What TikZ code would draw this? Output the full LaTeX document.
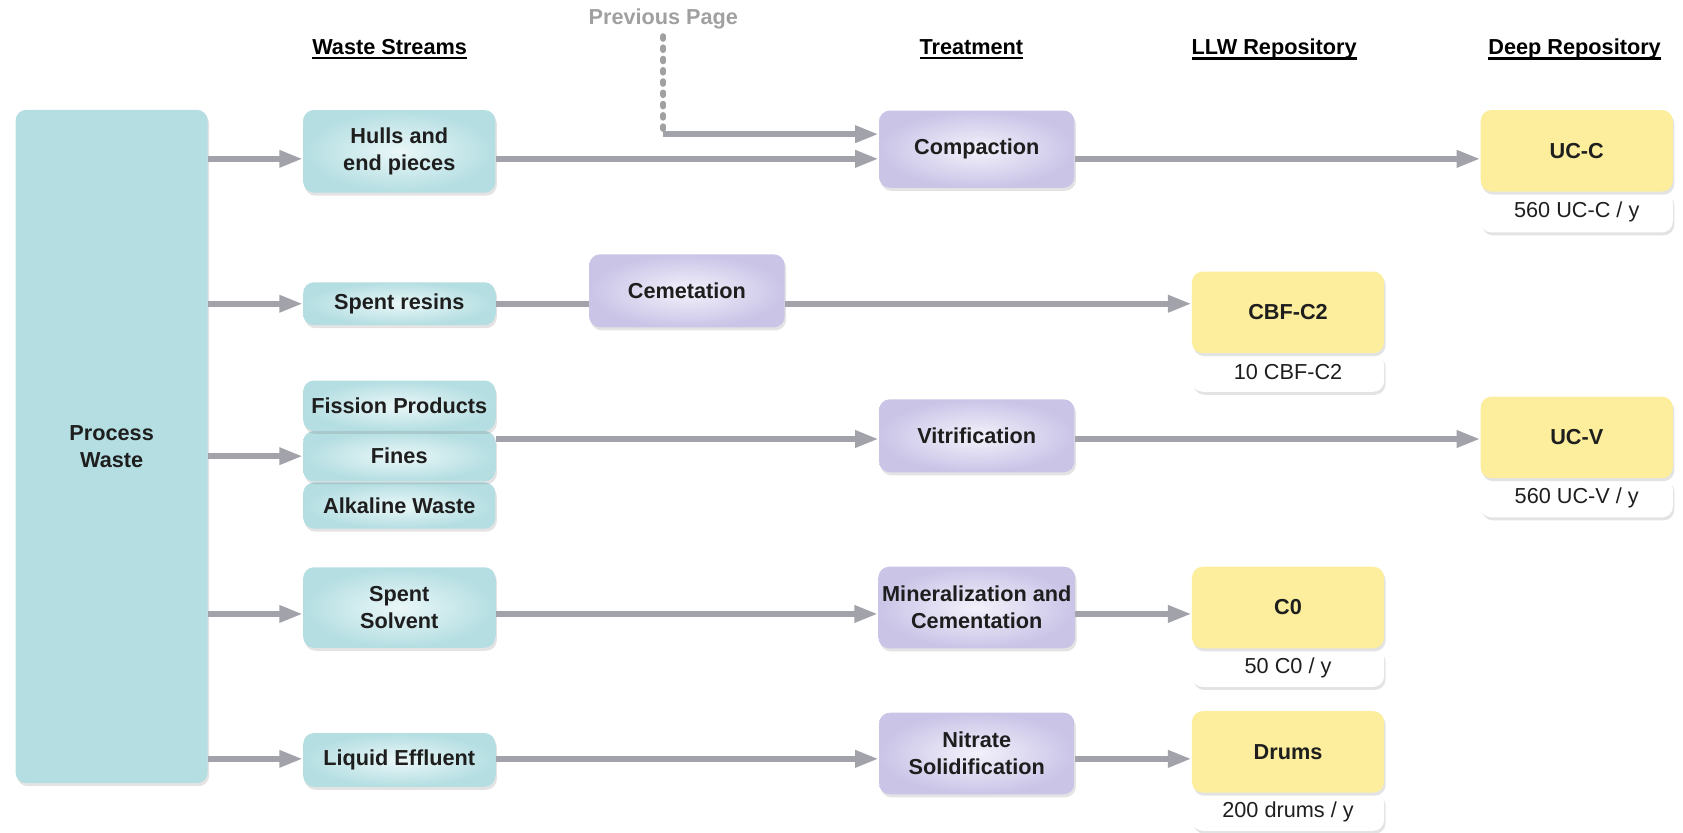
\documentclass[tikz,border=0pt]{standalone}
\usepackage{fontspec}
\setmainfont{Liberation Sans}
\newcommand{\underhead}[1]{\setbox0\hbox{#1}\leavevmode\rlap{\rule[-2.6pt]{\wd0}{1.2pt}}\box0}
\usetikzlibrary{positioning}
\usetikzlibrary{arrows.meta, shadows}

\definecolor{wastecyan}{HTML}{B4DEE2}
\definecolor{wastecyanlight}{HTML}{EAF7F8}
\definecolor{treatlilac}{HTML}{CAC4E7}
\definecolor{treatlilaclight}{HTML}{F3F1FB}
\definecolor{storeyellow}{HTML}{FCEE9C}
\definecolor{flowgray}{HTML}{A2A2AA}
\definecolor{pagegray}{HTML}{A0A0A0}
\definecolor{inktext}{HTML}{1E1E1E}

\begin{document}
\begin{tikzpicture}[x=0.02cm, y=-0.02cm]

\tikzset{box/.style={
		rounded corners=0.2cm,
		minimum width=3.58cm,
		inner sep=2pt,
		align=center,
		text=inktext,
		font=\fontsize{11.5}{14.5}\selectfont\bfseries,
		drop shadow={shadow xshift=0.8pt, shadow yshift=-1.6pt, opacity=0.22}
	},
	stream/.style={box, inner color=wastecyanlight, outer color=wastecyan, minimum height=#1},
	stream/.default=1.5cm,
	treat/.style={box, minimum width=3.64cm, inner color=treatlilaclight, outer color=treatlilac, minimum height=#1},
	treat/.default=1.5cm,
	store/.style={box, fill=storeyellow, minimum height=1.52cm},
	ratebox/.style={box, fill=white, minimum height=#1, font=\fontsize{11.5}{14}\selectfont},
	ratebox/.default=0.74cm,
	colhead/.style={font=\fontsize{11.5}{14}\selectfont\bfseries, text=black},
	flow/.style={draw=flowgray, line width=0.11cm, -{Triangle[length=0.44cm, width=0.3cm]}},
	flowline/.style={draw=flowgray, line width=0.11cm},
	pagelink/.style={draw=pagegray, line width=0.11cm, line cap=round, dash pattern=on 0.05cm off 0.16cm}
}
\useasboundingbox (0,0) rectangle (1568,776);

% column headings
\node[colhead] (h-streams) at (363,46) {\underhead{Waste Streams}};
\node[colhead] (h-treat) at (905,46) {\underhead{Treatment}};
\node[colhead] (h-llw) at (1187,46) {\underhead{LLW Repository}};
\node[colhead] (h-deep) at (1467,46) {\underhead{Deep Repository}};
\node[colhead, text=pagegray] (prev) at (618,18) {Previous Page};

\node[box, fill=wastecyan, minimum height=12.55cm] (pw) at (104,416) {Process\\Waste};

% waste streams
\node[stream=1.54cm] (hulls) at (372,141) {Hulls and\\end pieces};
\node[stream=0.8cm] (resins) at (372,283) {Spent resins};
\node[stream=0.86cm] (alkaline) at (372,471) {Alkaline Waste};
\node[stream=0.94cm] (fines) at (372,425) {Fines};
\node[stream=0.94cm] (fission) at (372,378) {Fission Products};
\node[stream=1.5cm] (solvent) at (372,566) {Spent\\Solvent};
\node[stream=1.0cm] (effluent) at (372,708) {Liquid Effluent};

% treatment
\node[treat=1.44cm] (compact) at (910,139) {Compaction};
\node[treat=1.36cm] (cement) at (640,271) {Cemetation};
\node[treat=1.36cm] (vitr) at (910,406) {Vitrification};
\node[treat=1.52cm] (miner) at (910,566) {Mineralization and\\Cementation};
\node[treat=1.52cm] (nitrate) at (910,702) {Nitrate\\Solidification};

% repositories
\node[ratebox=0.76cm] (ucc-rate) at (1469,197.5) {560 UC-C / y};
\node[store] (ucc) at (1469,140.5) {UC-C};
\node[ratebox=0.72cm] (cbf-rate) at (1200,347) {10 CBF-C2};
\node[store] (cbf) at (1200,291) {CBF-C2};
\node[ratebox] (ucv-rate) at (1469,463.5) {560 UC-V / y};
\node[store] (ucv) at (1469,407.5) {UC-V};
\node[ratebox=0.72cm] (c0-rate) at (1200,622) {50 C0 / y};
\node[store] (c0) at (1200,566) {C0};
\node[ratebox=0.72cm] (drums-rate) at (1200,756) {200 drums / y};
\node[store] (drums) at (1200,700.5) {Drums};

\coordinate (row1) at (0,148);
\coordinate (row2) at (0,283);
\coordinate (row3) at (0,425);
\coordinate (row3b) at (0,409);
\coordinate (row4) at (0,572);
\coordinate (row5) at (0,707);
\coordinate (turn) at (618,125);

\draw[flow] (pw.east |- row1) -- (hulls.west |- row1);
\draw[flow] (hulls.east |- row1) -- (compact.west |- row1);
\draw[flow] (compact.east |- row1) -- (ucc.west |- row1);
\draw[pagelink] (prev.south) -- (turn);
\draw[flow] (turn) -- (compact.west |- turn);

\draw[flow] (pw.east |- row2) -- (resins.west);
\draw[flowline] (resins.east) -- (cement.west |- row2);
\draw[flow] (cement.east |- row2) -- (cbf.west |- row2);

\draw[flow] (pw.east |- row3) -- (fines.west);
\draw[flow] (fines.east |- row3b) -- (vitr.west |- row3b);
\draw[flow] (vitr.east |- row3b) -- (ucv.west |- row3b);

\draw[flow] (pw.east |- row4) -- (solvent.west |- row4);
\draw[flow] (solvent.east |- row4) -- (miner.west |- row4);
\draw[flow] (miner.east |- row4) -- (c0.west |- row4);

\draw[flow] (pw.east |- row5) -- (effluent.west |- row5);
\draw[flow] (effluent.east |- row5) -- (nitrate.west |- row5);
\draw[flow] (nitrate.east |- row5) -- (drums.west |- row5);
\end{tikzpicture}
\end{document}
